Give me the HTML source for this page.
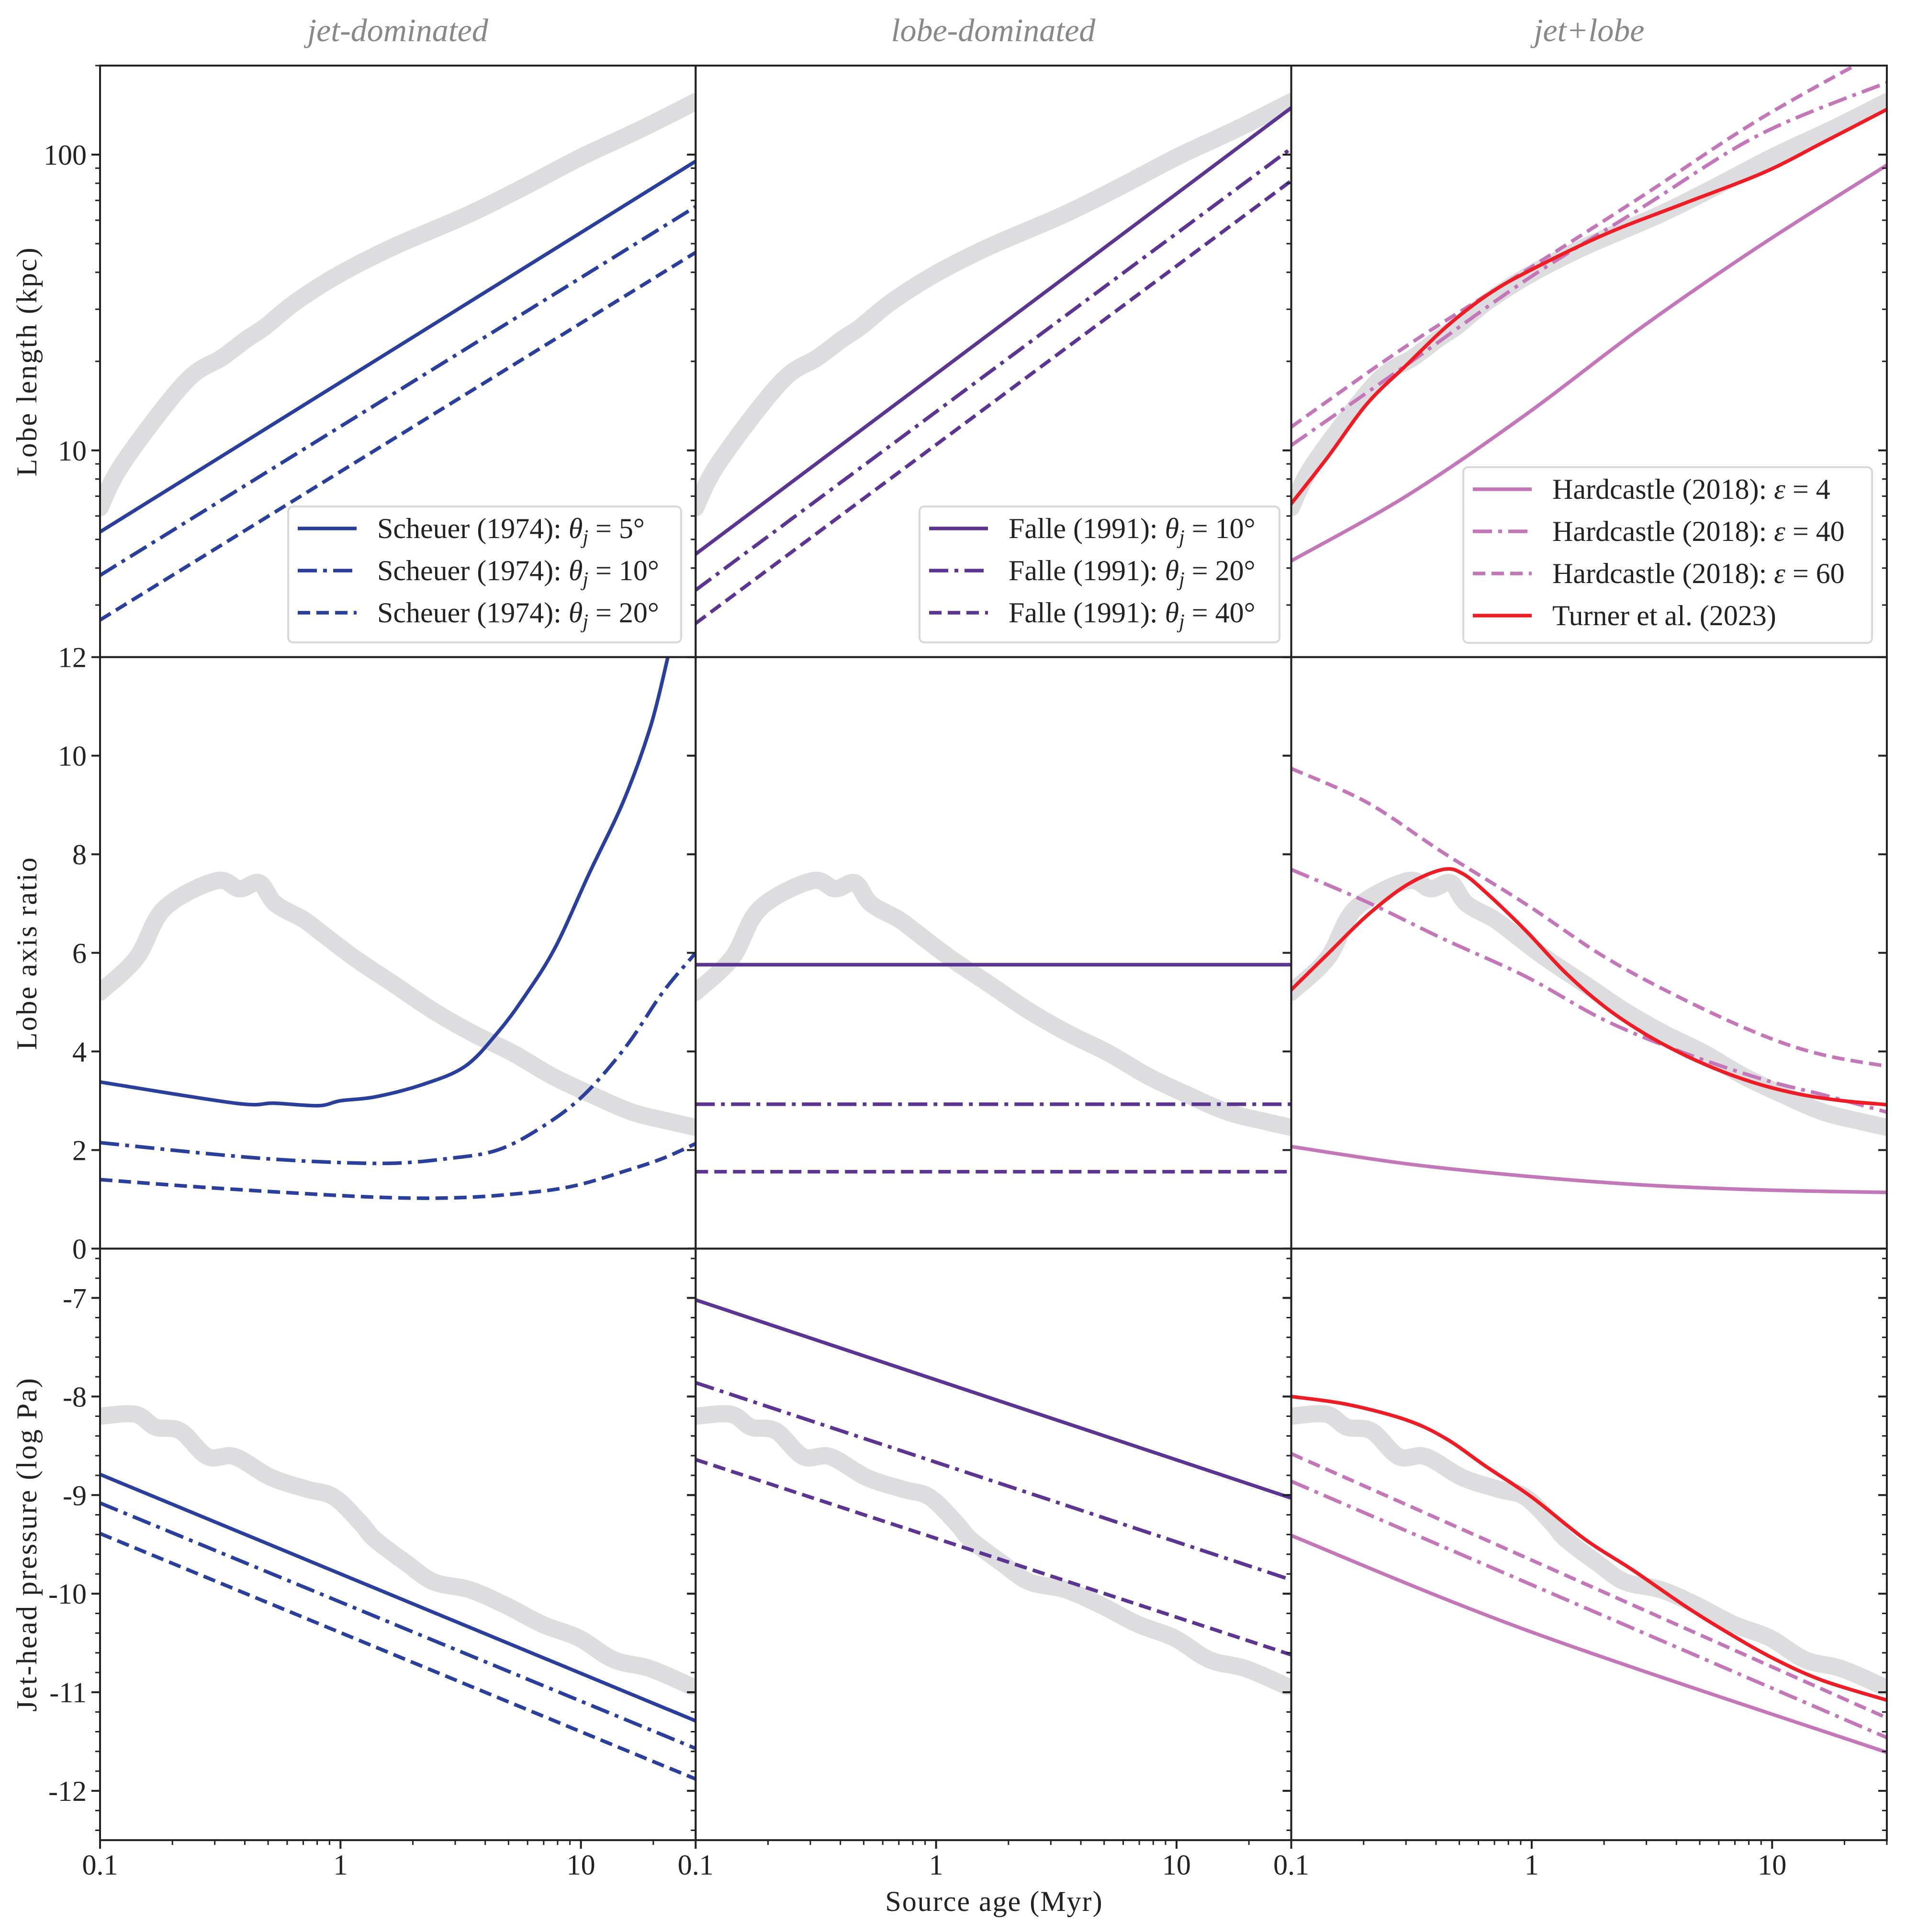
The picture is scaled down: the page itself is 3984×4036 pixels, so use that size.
<!DOCTYPE html>
<html><head><meta charset="utf-8"><style>
html,body{margin:0;padding:0;background:#fff}
svg{display:block}
text{font-family:"Liberation Serif",serif;fill:#222}
</style></head><body>
<svg id="fig" xmlns="http://www.w3.org/2000/svg" width="3984" height="4036" viewBox="0 0 3984 4036">
<rect width="3984" height="4036" fill="#fff"/>
<g id="titles" font-style="italic" font-size="68" text-anchor="middle">
<text x="831" y="86" style="fill:#888">jet-dominated</text>
<text x="2075" y="86" style="fill:#888">lobe-dominated</text>
<text x="3320" y="86" style="fill:#888">jet+lobe</text>
</g>
<g font-size="60" text-anchor="middle" letter-spacing="3">
<text transform="translate(76,755) rotate(-90)">Lobe length (kpc)</text>
<text transform="translate(76,1991) rotate(-90)">Lobe axis ratio</text>
<text transform="translate(76,3226) rotate(-90)">Jet-head pressure (log Pa)</text>
</g>
<text x="2077" y="3992" font-size="60" text-anchor="middle" letter-spacing="2">Source age (Myr)</text>
<g id="plots"></g>
<g id="frames"></g>
<g id="legends"></g>
</svg>
<script>
// ---------- data ----------
const grayLenAge = [0.1,0.125,0.226,0.322,0.408,0.487,0.653,1.0,1.68,3.3,5.5,10,17.8,30];
const grayLen    = [6.4,9.1,17.0,20.6,23.8,26.2,31.8,39.6,49,62,76,98,122,151];
const grayRatioAge = [0.1,0.142,0.185,0.303,0.38,0.46,0.535,0.70,0.81,1.14,1.67,2.44,3.57,5.2,7.6,11.1,16.3,23.8,30];
const grayRatio    = [5.2,5.9,6.9,7.46,7.3,7.42,7.0,6.68,6.45,5.9,5.36,4.82,4.36,3.97,3.5,3.12,2.77,2.57,2.46];
const grayPresAge = [0.1,0.14,0.17,0.216,0.28,0.363,0.513,0.725,0.94,1.22,1.39,1.88,2.44,3.45,4.88,6.9,9.8,13.7,19.4,28.8];
const grayPres    = [-8.20,-8.18,-8.31,-8.35,-8.61,-8.61,-8.82,-8.94,-9.02,-9.29,-9.45,-9.69,-9.88,-9.96,-10.12,-10.31,-10.45,-10.67,-10.76,-10.94];

const lineAge = [0.1,30];
const scheuerLen5 = [5.3,95], scheuerLen10 = [3.78,66.7], scheuerLen20 = [2.67,46.7];
const falleLen10 = [4.46,144], falleLen20 = [3.37,105], falleLen40 = [2.6,81.6];

const scheuerRatioAge5 = [0.1,0.365,0.53,0.81,1.0,1.4,2.2,3.3,4.5,5.8,7.8,10.8,15.1,19.5,23];
const scheuerRatio5    = [3.38,2.95,2.95,2.9,3.0,3.08,3.33,3.7,4.38,5.1,6.1,7.6,9.1,10.6,12.0];
const scheuerRatioAge10 = [0.1,0.32,0.69,1.57,2.83,4.5,6.8,10.2,15.4,21.9,30];
const scheuerRatio10    = [2.15,1.9,1.78,1.73,1.83,2.0,2.45,3.1,4.1,5.2,6.0];
const scheuerRatioAge20 = [0.1,0.32,1.3,2.95,5.9,9.5,15.4,21.9,30];
const scheuerRatio20    = [1.4,1.22,1.05,1.03,1.13,1.28,1.58,1.83,2.13];
const falleRatio10 = [5.76,5.76], falleRatio20 = [2.93,2.93], falleRatio40 = [1.56,1.56];

const hcLenAge = [0.1,0.303,0.944,2.89,8.9,29.9];
const hc4Len  = [4.23,7.03,13.2,26.2,49.2,92];
const hc40Len = [10.4,19.5,37.6,66.4,117,175];
const hc60Len = [12.0,22.6,40.5,72.5,132,229];
const turnerLenAge = [0.1,0.142,0.207,0.303,0.442,0.646,0.944,2.02,4.31,9.2,16.3,29.9];
const turnerLen    = [6.6,9.5,14.4,19.5,26.2,33.3,39.9,53.8,68.4,86.9,110,142];

const hcRatioAge = [0.1,0.207,0.426,0.945,2.02,4.31,9.2,16.3,30];
const hc60Ratio = [9.74,9.05,8.04,6.99,5.91,5.05,4.32,3.93,3.70];
const hc40Ratio = [7.69,7.03,6.29,5.52,4.63,3.97,3.43,3.12,2.77];
const hc4RatioAge = [0.1,0.303,0.945,2.95,9.2,30];
const hc4Ratio = [2.07,1.72,1.47,1.29,1.19,1.14];
const turnerRatioAge = [0.1,0.142,0.207,0.303,0.426,0.515,0.647,0.945,1.38,2.02,2.95,4.31,6.3,9.2,13.4,19.6,30];
const turnerRatio    = [5.25,5.98,6.76,7.38,7.69,7.61,7.22,6.45,5.60,4.90,4.36,3.93,3.58,3.31,3.12,3.0,2.92];

const scheuerPres5 = [-8.79,-11.29], scheuerPres10 = [-9.08,-11.57], scheuerPres20 = [-9.39,-11.88];
const fallePres10 = [-7.02,-9.03], fallePres20 = [-7.86,-9.86], fallePres40 = [-8.64,-10.62];
const hcPresAge = [0.1,1,30];
const hc4Pres  = [-9.41,-10.39,-11.61];
const hc40Pres = [-8.86,-9.91,-11.46];
const hc60Pres = [-8.58,-9.66,-11.26];
const turnerPresAge = [0.1,0.171,0.303,0.442,0.646,1,1.67,2.63,4.31,6.28,10,16.2,30];
const turnerPres    = [-8.0,-8.08,-8.24,-8.43,-8.71,-9.02,-9.45,-9.76,-10.12,-10.37,-10.65,-10.88,-11.08];

const yTicksLen = [10,100];
const yTicksRatio = [0,2,4,6,8,10,12];
const yTicksPres = [-12,-11,-10,-9,-8,-7];
const xTickVals = [0.1,1,10];
const xTickLabels = ['0.1','1','10'];

// ---------- layout ----------
const NS='http://www.w3.org/2000/svg';
const X0=209, PW=1244.3, Y0=137, PH=1235.7;
const XMIN=0.1, XMAX=30;
const rows=[{log:true,min:2,max:200},{log:false,min:0,max:12},{log:false,min:-12.5,max:-6.5}];
function xs(c,a){return X0+c*PW+(Math.log10(a)-Math.log10(XMIN))/(Math.log10(XMAX)-Math.log10(XMIN))*PW;}
function ys(r,v){const R=rows[r];let f;if(R.log)f=(Math.log10(v)-Math.log10(R.min))/(Math.log10(R.max)-Math.log10(R.min));else f=(v-R.min)/(R.max-R.min);return Y0+r*PH+(1-f)*PH;}
function mk(tag,attrs,parent){const e=document.createElementNS(NS,tag);for(const k in attrs)e.setAttribute(k,attrs[k]);parent.appendChild(e);return e;}

const BLUE='#2a3f9c',PURP='#5c3592',PINK='#c377b8',RED='#ee1d25',GRAY='#dddde0';
const DASH='26 13', DDOT='40 13 8 13';
const plots=document.getElementById('plots');
const frames=document.getElementById('frames');
const legends=document.getElementById('legends');
const defs=mk('defs',{},plots);
for(let r=0;r<3;r++)for(let c=0;c<3;c++){
  const cp=mk('clipPath',{id:'cp'+r+c},defs);
  mk('rect',{x:X0+c*PW,y:Y0+r*PH,width:PW,height:PH},cp);
}
function smoothPath(pts){
  if(pts.length<3){return 'M'+pts.map(p=>p[0].toFixed(1)+','+p[1].toFixed(1)).join('L');}
  let d='M'+pts[0][0].toFixed(1)+','+pts[0][1].toFixed(1);
  for(let i=0;i<pts.length-1;i++){
    const p0=pts[Math.max(0,i-1)],p1=pts[i],p2=pts[i+1],p3=pts[Math.min(pts.length-1,i+2)];
    const t=0.35/2*2/ (1);
    const c1=[p1[0]+(p2[0]-p0[0])/6,p1[1]+(p2[1]-p0[1])/6];
    const c2=[p2[0]-(p3[0]-p1[0])/6,p2[1]-(p3[1]-p1[1])/6];
    d+='C'+c1[0].toFixed(1)+','+c1[1].toFixed(1)+' '+c2[0].toFixed(1)+','+c2[1].toFixed(1)+' '+p2[0].toFixed(1)+','+p2[1].toFixed(1);
  }
  return d;
}
function series(r,c,ages,vals,color,w,dash,name){
  const pts=ages.map((a,i)=>[xs(c,a),ys(r,vals[i])]);
  const p=mk('path',{d:smoothPath(pts),fill:'none',stroke:color,'stroke-width':w,'stroke-linejoin':'round','stroke-linecap':dash?'butt':'round','clip-path':'url(#cp'+r+c+')'},plots);
  if(dash)p.setAttribute('stroke-dasharray',dash);
  
  
}
// gray simulation
for(let c=0;c<3;c++){
  series(0,c,grayLenAge,grayLen,GRAY,36,null,'simulation-length-col'+(c+1));
  series(1,c,grayRatioAge,grayRatio,GRAY,36,null,'simulation-axis-ratio-col'+(c+1));
  series(2,c,grayPresAge,grayPres,GRAY,36,null,'simulation-pressure-col'+(c+1));
}
const LW=7.5;
series(0,0,lineAge,scheuerLen5,BLUE,LW,null,'scheuer-5-length');
series(0,0,lineAge,scheuerLen10,BLUE,LW,DDOT,'scheuer-10-length');
series(0,0,lineAge,scheuerLen20,BLUE,LW,DASH,'scheuer-20-length');
series(1,0,scheuerRatioAge5,scheuerRatio5,BLUE,LW,null,'scheuer-5-axis-ratio');
series(1,0,scheuerRatioAge10,scheuerRatio10,BLUE,LW,DDOT,'scheuer-10-axis-ratio');
series(1,0,scheuerRatioAge20,scheuerRatio20,BLUE,LW,DASH,'scheuer-20-axis-ratio');
series(2,0,lineAge,scheuerPres5,BLUE,LW,null,'scheuer-5-pressure');
series(2,0,lineAge,scheuerPres10,BLUE,LW,DDOT,'scheuer-10-pressure');
series(2,0,lineAge,scheuerPres20,BLUE,LW,DASH,'scheuer-20-pressure');

series(0,1,lineAge,falleLen10,PURP,LW,null,'falle-10-length');
series(0,1,lineAge,falleLen20,PURP,LW,DDOT,'falle-20-length');
series(0,1,lineAge,falleLen40,PURP,LW,DASH,'falle-40-length');
series(1,1,lineAge,falleRatio10,PURP,LW,null,'falle-10-axis-ratio');
series(1,1,lineAge,falleRatio20,PURP,LW,DDOT,'falle-20-axis-ratio');
series(1,1,lineAge,falleRatio40,PURP,LW,DASH,'falle-40-axis-ratio');
series(2,1,lineAge,fallePres10,PURP,LW,null,'falle-10-pressure');
series(2,1,lineAge,fallePres20,PURP,LW,DDOT,'falle-20-pressure');
series(2,1,lineAge,fallePres40,PURP,LW,DASH,'falle-40-pressure');

series(0,2,hcLenAge,hc4Len,PINK,LW,null,'hardcastle-4-length');
series(0,2,hcLenAge,hc40Len,PINK,LW,DDOT,'hardcastle-40-length');
series(0,2,hcLenAge,hc60Len,PINK,LW,DASH,'hardcastle-60-length');
series(0,2,turnerLenAge,turnerLen,RED,LW,null,'turner-length');
series(1,2,hc4RatioAge,hc4Ratio,PINK,LW,null,'hardcastle-4-axis-ratio');
series(1,2,hcRatioAge,hc40Ratio,PINK,LW,DDOT,'hardcastle-40-axis-ratio');
series(1,2,hcRatioAge,hc60Ratio,PINK,LW,DASH,'hardcastle-60-axis-ratio');
series(1,2,turnerRatioAge,turnerRatio,RED,LW,null,'turner-axis-ratio');
series(2,2,hcPresAge,hc4Pres,PINK,LW,null,'hardcastle-4-pressure');
series(2,2,hcPresAge,hc40Pres,PINK,LW,DDOT,'hardcastle-40-pressure');
series(2,2,hcPresAge,hc60Pres,PINK,LW,DASH,'hardcastle-60-pressure');
series(2,2,turnerPresAge,turnerPres,RED,LW,null,'turner-pressure');

// ---------- axes ----------
const TK='#222';
function tick(x1,y1,x2,y2,w){mk('line',{x1:x1,y1:y1,x2:x2,y2:y2,stroke:TK,'stroke-width':w},frames);}
for(let r=0;r<3;r++){
  let majors=[],minors=[];
  if(r===0){majors=yTicksLen;for(const d of [1,10,100])for(let k=2;k<10;k++){const v=k*d;if(v>=2&&v<=200)minors.push(v);}}
  else if(r===1){majors=yTicksRatio;}
  else {majors=yTicksPres;for(let v=-12.4;v<-6.5;v+=0.2){if(Math.abs(v-Math.round(v))>0.05)minors.push(v);}}
  for(let c=0;c<3;c++){
    const xl=X0+c*PW, xr=xl+PW;
    for(const v of majors){const y=ys(r,v);tick(xl-18,y,xl,y,4);tick(xr-18,y,xr,y,4);}
    for(const v of minors){const y=ys(r,v);tick(xl-10,y,xl,y,3);tick(xr-10,y,xr,y,3);}
  }
  const g=mk('g',{'font-size':60,'text-anchor':'end'},frames);
  
  
  for(const v of majors){
    const t=mk('text',{x:X0-28,y:ys(r,v)+21},g);t.textContent=String(v);
  }
}
const xg=mk('g',{'font-size':60,'text-anchor':'middle'},frames);


const yb=Y0+3*PH;
for(let c=0;c<3;c++){
  for(const d of [0.1,1,10])for(let k=1;k<10;k++){const a=k*d;if(a<0.1||a>30)continue;const x=xs(c,a);tick(x,yb,x,yb+(k===1?18:10),k===1?4:3);}
  for(let i=0;i<xTickVals.length;i++){const t=mk('text',{x:xs(c,xTickVals[i]),y:yb+72},xg);t.textContent=xTickLabels[i];}
}
for(let r=0;r<3;r++)for(let c=0;c<3;c++){
  const f=mk('rect',{x:X0+c*PW,y:Y0+r*PH,width:PW,height:PH,fill:'none',stroke:TK,'stroke-width':4},frames);
  
  
}

// ---------- legends ----------
function legend(x,y,w,h,entries,name){
  const g=mk('g',{},legends);
  
  
  mk('rect',{x:x,y:y,width:w,height:h,rx:10,fill:'#fff','fill-opacity':0.85,stroke:'#d8d8d8','stroke-width':4},g);
  entries.forEach((e,i)=>{
    const ey=y+46+i*88;
    const l=mk('line',{x1:x+20,y1:ey,x2:x+143,y2:ey,stroke:e.c,'stroke-width':LW},g);
    if(e.d)l.setAttribute('stroke-dasharray',e.d);
    const t=mk('text',{x:x+186,y:ey+20,'font-size':60},g);
    t.innerHTML=e.t;
    
    
  });
}
const th=(a)=>'Scheuer (1974): <tspan font-style="italic">θ</tspan><tspan font-style="italic" font-size="42" dy="12">j</tspan><tspan dy="-12"> = '+a+'°</tspan>';
const fh=(a)=>'Falle (1991): <tspan font-style="italic">θ</tspan><tspan font-style="italic" font-size="42" dy="12">j</tspan><tspan dy="-12"> = '+a+'°</tspan>';
legend(602,1058,821,284,[{c:BLUE,t:th(5)},{c:BLUE,d:DDOT,t:th(10)},{c:BLUE,d:DASH,t:th(20)}],'legend-jet-dominated');
legend(1921,1058,752,284,[{c:PURP,t:fh(10)},{c:PURP,d:DDOT,t:fh(20)},{c:PURP,d:DASH,t:fh(40)}],'legend-lobe-dominated');
const hh=(e)=>'Hardcastle (2018): <tspan font-style="italic">ε</tspan> = '+e;
legend(3057,976,854,367,[{c:PINK,t:hh(4)},{c:PINK,d:DDOT,t:hh(40)},{c:PINK,d:DASH,t:hh(60)},{c:RED,t:'Turner et al. (2023)'}],'legend-jet-lobe');
</script>
</body></html>
